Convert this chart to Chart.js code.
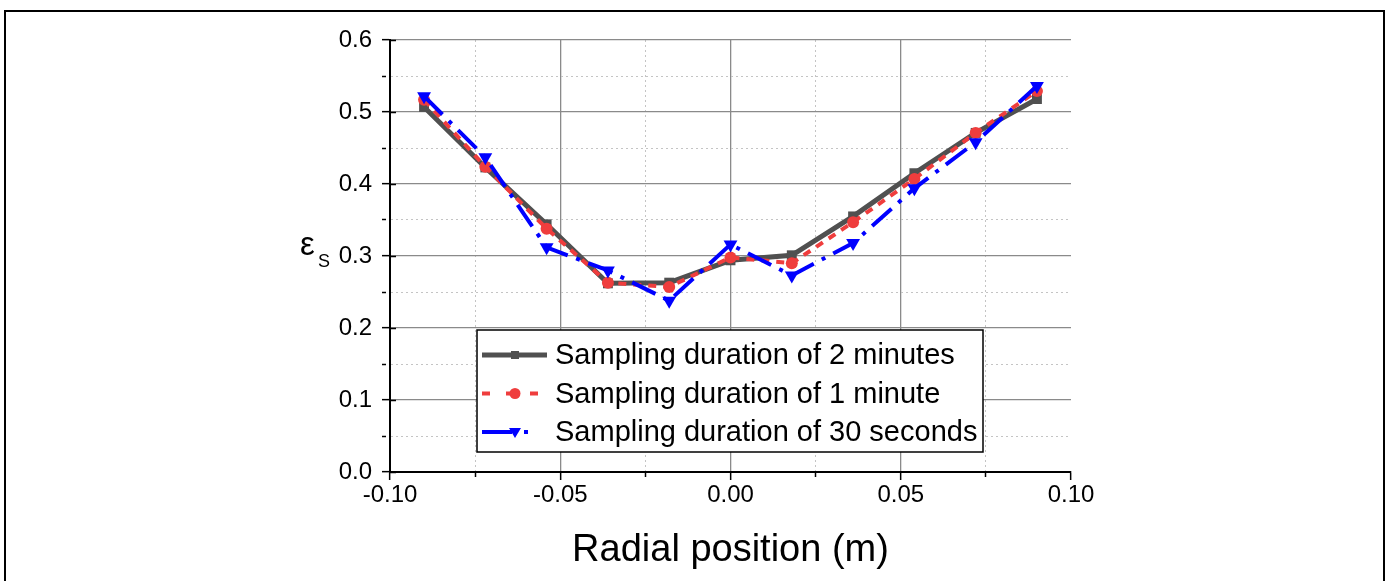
<!DOCTYPE html>
<html>
<head>
<meta charset="utf-8">
<script src="https://cdn.jsdelivr.net/npm/chart.js@4.4.1/dist/chart.umd.min.js"></script>
<style>
  html, body { margin: 0; padding: 0; background: #fff; overflow: hidden; }
  #frame { position: absolute; left: 4px; top: 10px; width: 1377px; height: 700px; border: 2px solid #000; }
  #wrap { position: absolute; left: 0; top: 0; width: 1396px; height: 581px; }
</style>
</head>
<body>
<div id="frame"></div>
<div id="wrap"><canvas id="voidChart" width="1396" height="581"></canvas></div>
<script>
// radial positions (m) and voidage for each sampling duration
var radialPos = [-0.09, -0.072, -0.054, -0.036, -0.018, 0, 0.018, 0.036, 0.054, 0.072, 0.09];
var twoMinutes = [0.507, 0.423, 0.344, 0.262, 0.263, 0.294, 0.301, 0.355, 0.415, 0.471, 0.518];
var oneMinute = [0.517, 0.424, 0.338, 0.263, 0.257, 0.298, 0.290, 0.347, 0.407, 0.471, 0.529];
var thirtySeconds = [0.522, 0.437, 0.312, 0.280, 0.238, 0.316, 0.273, 0.318, 0.394, 0.458, 0.536];

var seriesNames = ['Sampling duration of 2 minutes', 'Sampling duration of 1 minute', 'Sampling duration of 30 seconds'];
var xTickLabels = ['-0.10', '-0.05', '0.00', '0.05', '0.10'];
var yTickLabels = ['0.0', '0.1', '0.2', '0.3', '0.4', '0.5', '0.6'];

function pts(ys) {
    return radialPos.map(function(x, i) { return { x: x, y: ys[i] }; });
}

// half steps are minor ticks
function isMajor(v, step) {
    return Math.abs(Math.round(v / step)) % 2 === 0;
}

var FONT = 'Liberation Sans, Arial, sans-serif';
// dash patterns for the short legend samples
var legendDash = [[], [8, 16], [30, 12, 4, 20]];

var boxLegend = {
    id: 'boxLegend',
    afterDatasetsDraw: function(chart) {
        var ctx = chart.ctx;
        var bx = 477, by = 330, bw = 506, bh = 122;
        ctx.save();
        ctx.fillStyle = '#fff';
        ctx.fillRect(bx, by, bw, bh);
        ctx.strokeStyle = '#000';
        ctx.lineWidth = 1.5;
        ctx.strokeRect(bx, by, bw, bh);
        ctx.font = '29px ' + FONT;
        ctx.textBaseline = 'middle';
        chart.data.datasets.forEach(function(ds, i) {
            var y = 355 + i * 38.5;
            ctx.strokeStyle = ds.borderColor;
            ctx.lineWidth = ds.borderWidth;
            ctx.setLineDash(legendDash[i]);
            ctx.beginPath();
            ctx.moveTo(482, y);
            ctx.lineTo(547, y);
            ctx.stroke();
            ctx.setLineDash([]);
            ctx.fillStyle = ds.backgroundColor;
            var cx = 515;
            ctx.beginPath();
            if (ds.pointStyle === 'rect') {
                ctx.rect(cx - 4, y - 4, 8, 8);
            } else if (ds.pointStyle === 'circle') {
                ctx.arc(cx, y, 5.5, 0, Math.PI * 2);
            } else {
                ctx.moveTo(cx - 6, y - 4);
                ctx.lineTo(cx + 6, y - 4);
                ctx.lineTo(cx, y + 6);
                ctx.closePath();
            }
            ctx.fill();
            ctx.fillStyle = '#000';
            ctx.fillText(ds.label, 555, y + 1);
        });
        ctx.restore();
    }
};

var yTitle = {
    id: 'yTitle',
    afterDraw: function(chart) {
        var ctx = chart.ctx;
        var ys = chart.scales.y;
        ctx.save();
        // inner half of the major y ticks
        ctx.strokeStyle = '#000';
        ctx.lineWidth = 1.5;
        ys.ticks.forEach(function(t) {
            if (!isMajor(t.value, 0.05)) return;
            var py = Math.round(ys.getPixelForValue(t.value)) + 0.5;
            ctx.beginPath();
            ctx.moveTo(chart.chartArea.left, py);
            ctx.lineTo(chart.chartArea.left + 6, py);
            ctx.stroke();
        });
        ctx.fillStyle = '#000';
        ctx.textBaseline = 'alphabetic';
        ctx.font = '33px ' + FONT;
        ctx.fillText('\u03b5', 300, 255);
        ctx.font = '18px ' + FONT;
        ctx.fillText('S', 318, 267);
        ctx.restore();
    }
};

var myChart = new Chart(document.getElementById('voidChart'), {
    type: 'scatter',
    data: {
        datasets: [{
            label: seriesNames[0],
            data: pts(twoMinutes),
            showLine: true,
            borderColor: '#505050',
            backgroundColor: '#505050',
            borderWidth: 5,
            pointStyle: 'rect',
            pointRadius: 7,
            pointBorderWidth: 0,
            order: 3
        }, {
            label: seriesNames[1],
            data: pts(oneMinute),
            showLine: true,
            borderColor: '#ef3d3d',
            backgroundColor: '#ef3d3d',
            borderWidth: 4,
            borderDash: [8, 7],
            pointStyle: 'circle',
            pointRadius: 6,
            pointBorderWidth: 0,
            order: 2
        }, {
            label: seriesNames[2],
            data: pts(thirtySeconds),
            showLine: true,
            borderColor: '#0000ff',
            backgroundColor: '#0000ff',
            borderWidth: 4,
            borderDash: [26, 9, 4, 9],
            pointStyle: 'triangle',
            rotation: 180,
            pointRadius: 8,
            pointBorderWidth: 0,
            order: 1
        }]
    },
    options: {
        responsive: false,
        animation: false,
        events: [],
        layout: { padding: { left: 0, top: 40, right: 325, bottom: 0 } },
        plugins: {
            legend: { display: false },
            tooltip: { enabled: false }
        },
        scales: {
            x: {
                type: 'linear',
                min: -0.1,
                max: 0.1,
                afterFit: function(scale) { scale.height = 109; },
                ticks: {
                    stepSize: 0.025,
                    autoSkip: false,
                    maxRotation: 0,
                    padding: 1,
                    color: '#000',
                    font: { family: FONT, size: 24 },
                    callback: function(v) {
                        if (!isMajor(v, 0.025)) return '';
                        return xTickLabels[Math.round((v + 0.1) / 0.05)];
                    }
                },
                grid: {
                    color: function(c) {
                        if (!c.tick) return '#000';
                        var v = c.tick.value;
                        if (Math.abs(Math.abs(v) - 0.1) < 1e-9) return 'rgba(0,0,0,0)';
                        return isMajor(v, 0.025) ? '#8a8a8a' : '#c4c4c4';
                    },
                    lineWidth: function(c) {
                        return c.tick && isMajor(c.tick.value, 0.025) ? 1.3 : 1;
                    },
                    tickLength: 8,
                    tickColor: '#000',
                    tickWidth: 1.5,
                    tickBorderDash: function(c) {
                        return c.tick && isMajor(c.tick.value, 0.025) ? [] : [4, 30];
                    }
                },
                border: {
                    display: true,
                    color: '#000',
                    width: 2,
                    dash: function(c) {
                        return c.tick && !isMajor(c.tick.value, 0.025) ? [2, 3] : [];
                    }
                },
                title: {
                    display: true,
                    text: 'Radial position (m)',
                    color: '#000',
                    font: { family: FONT, size: 38, lineHeight: 1 },
                    padding: { top: 0, bottom: 11 }
                }
            },
            y: {
                type: 'linear',
                min: 0,
                max: 0.6,
                afterFit: function(scale) { scale.width = 390; },
                ticks: {
                    stepSize: 0.05,
                    autoSkip: false,
                    padding: 10,
                    color: '#000',
                    font: { family: FONT, size: 24 },
                    callback: function(v) {
                        if (!isMajor(v, 0.05)) return '';
                        return yTickLabels[Math.round(v / 0.1)];
                    }
                },
                grid: {
                    color: function(c) {
                        if (!c.tick) return '#000';
                        var v = c.tick.value;
                        if (Math.abs(v) < 1e-9) return 'rgba(0,0,0,0)';
                        return isMajor(v, 0.05) ? '#8a8a8a' : '#c4c4c4';
                    },
                    lineWidth: function(c) {
                        return c.tick && isMajor(c.tick.value, 0.05) ? 1.3 : 1;
                    },
                    tickLength: 8,
                    tickColor: '#000',
                    tickWidth: 1.5,
                    tickBorderDash: function(c) {
                        return c.tick && isMajor(c.tick.value, 0.05) ? [] : [4, 30];
                    }
                },
                border: {
                    display: true,
                    color: '#000',
                    width: 2,
                    dash: function(c) {
                        return c.tick && !isMajor(c.tick.value, 0.05) ? [2, 3] : [];
                    }
                }
            }
        }
    },
    plugins: [boxLegend, yTitle]
});
</script>
</body>
</html>
